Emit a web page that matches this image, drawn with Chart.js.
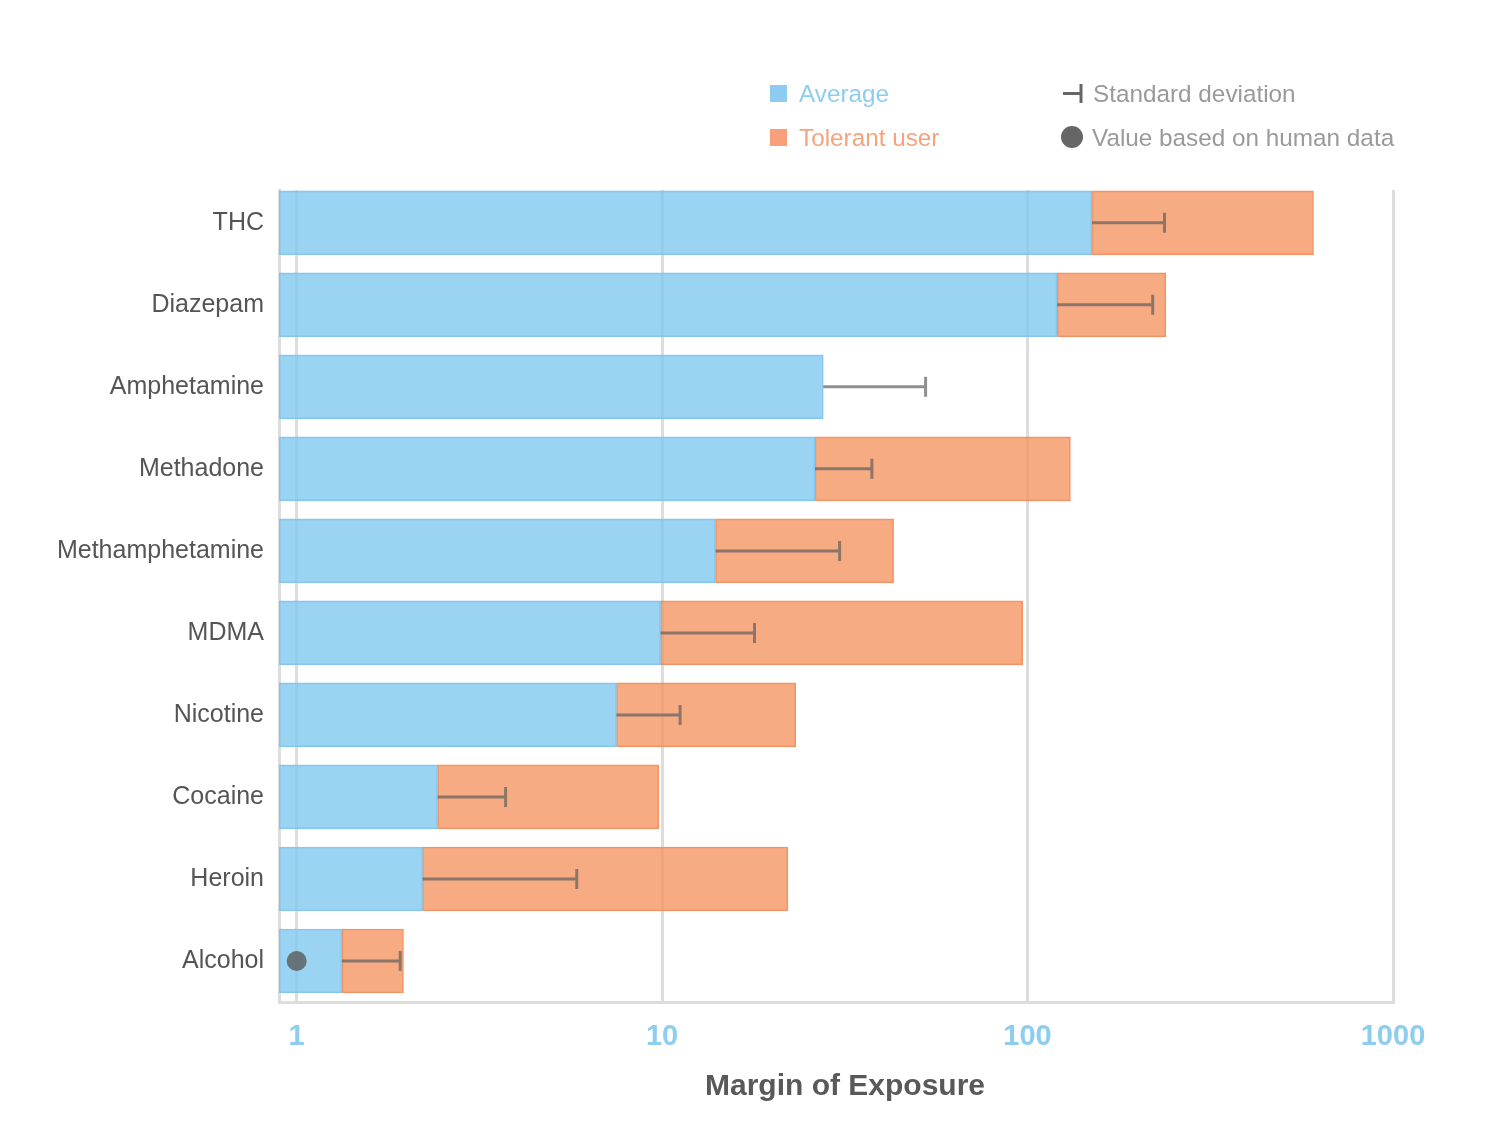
<!DOCTYPE html>
<html>
<head>
<meta charset="utf-8">
<script src="https://cdn.jsdelivr.net/npm/chart.js@4.4.1/dist/chart.umd.min.js"></script>
<style>
    body { margin: 0; background: #fff; font-family: "Liberation Sans", Arial, sans-serif; }
    #wrap { position: relative; width: 1500px; height: 1142px; }
    .leg { position: absolute; font-size: 24.3px; line-height: 24px; white-space: nowrap; }
    .sq { position: absolute; width: 17px; height: 17px; }
</style>
</head>
<body>
<div id="wrap">
    <canvas id="moeChart" width="1500" height="1142"></canvas>

    <!-- legend -->
    <div class="sq" style="left:770px; top:85px; background:#8dccf0;"></div>
    <div class="leg" style="left:799px; top:82px; color:#8ecdf1;">Average</div>
    <div class="sq" style="left:770px; top:129px; background:#f7a07a;"></div>
    <div class="leg" style="left:799px; top:126px; color:#f6a27a;">Tolerant user</div>
    <svg style="position:absolute; left:1060px; top:82px;" width="26" height="24">
        <path d="M3 11.5 H21 M21 2 V21" stroke="#666" stroke-width="3" fill="none"/>
    </svg>
    <div class="leg" style="left:1093px; top:82px; color:#9a9a9a;">Standard deviation</div>
    <svg style="position:absolute; left:1060px; top:125px;" width="24" height="24">
        <circle cx="12" cy="12" r="11" fill="#666"/>
    </svg>
    <div class="leg" style="left:1092px; top:126px; color:#9a9a9a;">Value based on human data</div>
</div>

<script>
    const categories = ['THC', 'Diazepam', 'Amphetamine', 'Methadone', 'Methamphetamine',
        'MDMA', 'Nicotine', 'Cocaine', 'Heroin', 'Alcohol'];
    // margin of exposure values
    const averageMoe = [150, 120.5, 27.6, 26.2, 14.0, 9.9, 7.5, 2.43, 2.21, 1.33];
    const tolerantMoe = [606, 239, null, 131, 43, 97, 23.2, 9.8, 22.1, 1.96];
    const stdDevMoe = [237, 220, 52.6, 37.5, 30.6, 17.9, 11.2, 3.73, 5.84, 1.92];
    const humanDataMoe = [null, null, null, null, null, null, null, null, null, 1.0];
    const xTicks = [1, 10, 100, 1000];

    const xMin = 0.8946;
    const xMax = 1000;

    // error bars, human data dots and the axis title
    const extrasPlugin = {
        id: 'extras',
        afterDatasetsDraw(chart) {
            const {ctx, scales: {x, y}} = chart;
            ctx.save();
            ctx.strokeStyle = 'rgba(95, 95, 95, 0.7)';
            ctx.lineWidth = 3;
            stdDevMoe.forEach((v, i) => {
                if (v === null) {
                    return;
                }
                const x0 = x.getPixelForValue(averageMoe[i]);
                const x1 = x.getPixelForValue(v);
                const yc = y.getPixelForValue(i);
                ctx.beginPath();
                ctx.moveTo(x0, yc);
                ctx.lineTo(x1, yc);
                ctx.moveTo(x1, yc - 10);
                ctx.lineTo(x1, yc + 10);
                ctx.stroke();
            });
            ctx.fillStyle = 'rgba(90, 90, 90, 0.8)';
            humanDataMoe.forEach((v, i) => {
                if (v === null) {
                    return;
                }
                ctx.beginPath();
                ctx.arc(x.getPixelForValue(v), y.getPixelForValue(i), 10, 0, Math.PI * 2);
                ctx.fill();
            });
            ctx.restore();
        },
        afterDraw(chart) {
            const ctx = chart.ctx;
            ctx.save();
            ctx.font = 'bold 30px "Liberation Sans", Arial, sans-serif';
            ctx.fillStyle = '#595959';
            ctx.textAlign = 'center';
            ctx.textBaseline = 'middle';
            ctx.fillText('Margin of Exposure', 845, 1087);
            ctx.restore();
        }
    };

    new Chart(document.getElementById('moeChart'), {
        type: 'bar',
        data: {
            datasets: [{
                    label: 'Average',
                    data: categories.map((c, i) => ({y: i, x: [xMin, averageMoe[i]]})),
                    backgroundColor: 'rgba(130, 200, 240, 0.8)',
                    borderColor: 'rgba(120, 195, 238, 0.9)',
                    borderWidth: 1,
                    borderSkipped: false,
                    barThickness: 64,
                    grouped: false,
                    order: 1
                }, {
                    label: 'Tolerant user',
                    data: categories.map((c, i) => ({y: i, x: tolerantMoe[i] === null ? null : [averageMoe[i], tolerantMoe[i]]})),
                    backgroundColor: 'rgba(245, 150, 100, 0.8)',
                    borderColor: 'rgba(242, 135, 85, 0.9)',
                    borderWidth: 1,
                    borderSkipped: false,
                    barThickness: 64,
                    grouped: false,
                    order: 2
                }]
        },
        options: {
            indexAxis: 'y',
            responsive: false,
            animation: false,
            layout: {padding: {top: 190, right: 107, bottom: 0, left: 0}},
            plugins: {
                legend: {display: false},
                tooltip: {enabled: false}
            },
            scales: {
                x: {
                    type: 'logarithmic',
                    min: xMin,
                    max: xMax,
                    afterBuildTicks: s => { s.ticks = xTicks.map(v => ({value: v})); },
                    afterFit: s => { s.height = 140; },
                    grid: {color: '#dddddd', lineWidth: 3, drawTicks: false},
                    border: {display: true, color: '#dddddd', width: 3},
                    ticks: {
                        autoSkip: false,
                        maxRotation: 0,
                        padding: 18,
                        color: '#8dcdf0',
                        font: {family: '"Liberation Sans", Arial, sans-serif', size: 29, weight: 'bold'},
                        callback: v => String(v)
                    }
                },
                y: {
                    type: 'linear',
                    reverse: true,
                    offset: false,
                    min: -0.4,
                    max: 9.5,
                    afterBuildTicks: s => { s.ticks = categories.map((c, i) => ({value: i})); },
                    afterFit: s => { s.width = 279; },
                    grid: {display: false, drawTicks: false, offset: false},
                    border: {display: true, color: '#dddddd', width: 3},
                    ticks: {
                        autoSkip: false,
                        padding: 15,
                        color: '#555555',
                        font: {family: '"Liberation Sans", Arial, sans-serif', size: 25},
                        callback: v => categories[v]
                    }
                }
            }
        },
        plugins: [extrasPlugin]
    });
</script>
</body>
</html>
